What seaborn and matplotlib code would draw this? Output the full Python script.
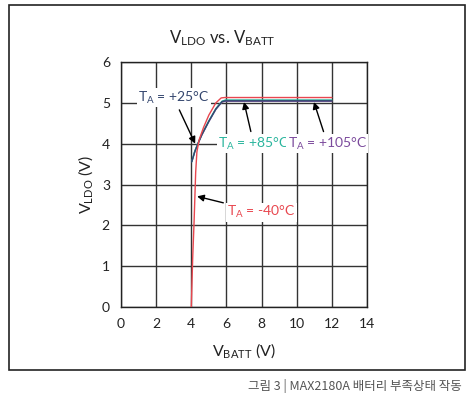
import numpy as np
import pandas as pd
import matplotlib
matplotlib.use("Agg")
import matplotlib.pyplot as plt
import seaborn as sns
from matplotlib.patches import Rectangle

# ---- data ----
vbatt_m40 = [4.0, 4.08, 4.16, 4.25, 4.32, 4.45, 4.7, 5.0, 5.4, 5.7, 5.9, 8.0, 10.0, 12.0]
vldo_m40 = [0.0, 1.2, 2.1, 3.3, 3.8, 4.1, 4.4, 4.7, 5.0, 5.12, 5.13, 5.13, 5.13, 5.13]

vbatt_25 = [4.02, 4.2, 4.4, 4.6, 5.0, 5.4, 5.75, 5.95, 8.0, 10.0, 12.0]
vldo_25 = [3.55, 3.8, 4.02, 4.22, 4.55, 4.85, 5.03, 5.05, 5.05, 5.05, 5.05]

vbatt_85 = [4.03, 4.2, 4.4, 4.6, 5.0, 5.4, 5.75, 5.95, 8.0, 10.0, 12.0]
vldo_85 = [3.56, 3.82, 4.03, 4.23, 4.56, 4.86, 5.04, 5.07, 5.07, 5.07, 5.07]

vbatt_105 = [4.04, 4.2, 4.4, 4.6, 5.0, 5.4, 5.75, 5.95, 8.0, 10.0, 12.0]
vldo_105 = [3.57, 3.81, 4.02, 4.21, 4.54, 4.84, 5.02, 5.04, 5.04, 5.04, 5.04]

labels = ["T$_\\mathregular{A}$ = -40°C", "T$_\\mathregular{A}$ = +25°C",
          "T$_\\mathregular{A}$ = +85°C", "T$_\\mathregular{A}$ = +105°C"]
x_ticks = [0, 2, 4, 6, 8, 10, 12, 14]
y_ticks = [0, 1, 2, 3, 4, 5, 6]

colors = {"-40": "#e8474f", "25": "#34466e", "85": "#2ab59d", "105": "#7b4a9c"}

sns.set_theme(style="white")
plt.rcParams["font.family"] = ["Lato", "DejaVu Sans"]
plt.rcParams["mathtext.fontset"] = "custom"
plt.rcParams["mathtext.rm"] = "Lato"
plt.rcParams["mathtext.it"] = "Lato"

fig = plt.figure(figsize=(4.7, 3.99), dpi=100)
ax = fig.add_axes([121 / 470, 1 - 307 / 399, 246 / 470, 245 / 399])

# outer frame
fig.patches.append(Rectangle((9 / 470, 1 - 370 / 399), 456 / 470, 365 / 399,
                             transform=fig.transFigure, fill=False,
                             edgecolor="#222222", linewidth=1.2, zorder=0))

df = pd.concat([
    pd.DataFrame({"VBATT": vbatt_105, "VLDO": vldo_105, "T": "105"}),
    pd.DataFrame({"VBATT": vbatt_85, "VLDO": vldo_85, "T": "85"}),
    pd.DataFrame({"VBATT": vbatt_25, "VLDO": vldo_25, "T": "25"}),
    pd.DataFrame({"VBATT": vbatt_m40, "VLDO": vldo_m40, "T": "-40"}),
])
sns.lineplot(data=df, x="VBATT", y="VLDO", hue="T", palette=colors, sort=False,
             estimator=None, linewidth=1.0, legend=False, ax=ax, zorder=3)

ax.set_xlim(0, 14)
ax.set_ylim(0, 6)
ax.set_xticks(x_ticks)
ax.set_yticks(y_ticks)
ax.grid(True, color="#333333", linewidth=1.0)
ax.set_axisbelow(True)
for s in ax.spines.values():
    s.set_color("#222222")
    s.set_linewidth(1.0)
    s.set_visible(True)
ax.tick_params(length=0, labelsize=10, colors="#222222", pad=8)

ax.set_xlabel("V$_\\mathregular{BATT}$ (V)", fontsize=11.5, color="#222222", labelpad=8)
ax.set_ylabel("V$_\\mathregular{LDO}$ (V)", fontsize=11.5, color="#222222", labelpad=5)
fig.text(222 / 470, 1 - 38 / 399, "V$_\\mathregular{LDO}$ vs. V$_\\mathregular{BATT}$",
         fontsize=12, color="#222222", ha="center", va="center")

bb = dict(boxstyle="square,pad=0.1", fc="white", ec="none")
arrow = dict(arrowstyle="-|>", color="black", lw=1.0, mutation_scale=10,
             shrinkA=2, shrinkB=0)
ax.annotate(labels[1], xy=(4.22, 4.0), xytext=(3.0, 5.12), color=colors["25"],
            fontsize=10, ha="center", va="center", bbox=bb, arrowprops=arrow, zorder=5)
ax.annotate(labels[2], xy=(7.0, 5.02), xytext=(7.55, 4.0), color=colors["85"],
            fontsize=10, ha="center", va="center", bbox=bb, arrowprops=arrow, zorder=5)
ax.annotate(labels[3], xy=(10.98, 5.02), xytext=(11.75, 4.0), color=colors["105"],
            fontsize=10, ha="center", va="center", bbox=bb, arrowprops=arrow, zorder=5)
ax.annotate(labels[0], xy=(4.33, 2.71), xytext=(8.0, 2.32), color=colors["-40"],
            fontsize=10, ha="center", va="center", bbox=bb, arrowprops=arrow, zorder=5)

fig.text(462 / 470, 1 - 386 / 399, "그림 3 | MAX2180A 배터리 부족상태 작동",
         fontsize=9, color="#555555", ha="right", va="center",
         family=["Noto Sans CJK KR", "DejaVu Sans"])

fig.savefig("out.png", dpi=100)
